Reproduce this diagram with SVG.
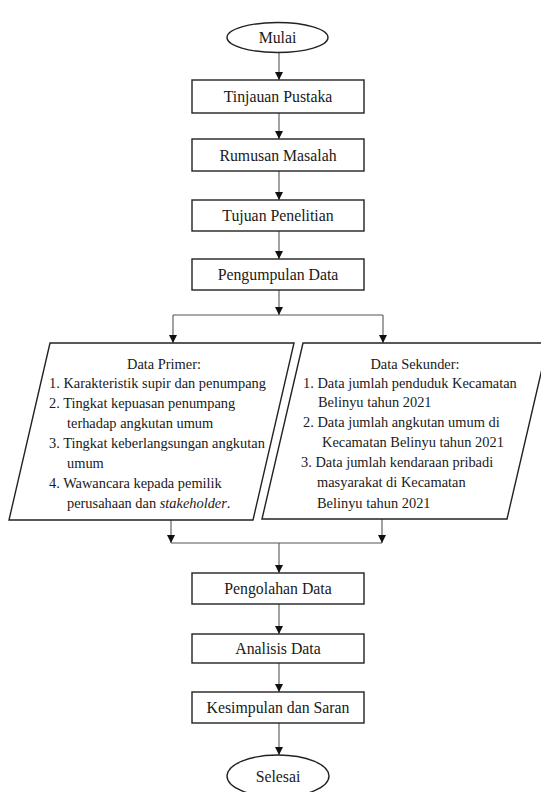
<svg xmlns="http://www.w3.org/2000/svg" width="541" height="792" viewBox="0 0 541 792">
<style>
.shape{fill:#fff;stroke:#222;stroke-width:1.4}
.t{font-family:'Liberation Serif',Tinos,'Times New Roman',Times,serif;font-size:15.8px;fill:#1a1a1a;text-anchor:middle}
.l{font-family:'Liberation Serif',Tinos,'Times New Roman',Times,serif;font-size:14.4px;fill:#1a1a1a}
.c{fill:none;stroke:#555;stroke-width:1.1}
</style>
<defs>
<marker id="ah" markerWidth="8" markerHeight="8" refX="8" refY="4" orient="auto" markerUnits="userSpaceOnUse">
<path d="M0,0 L8,4 L0,8 z" fill="#111"/>
</marker>
</defs>
<rect width="541" height="792" fill="#fff"/>
<g id="connectors">
<line class="c" x1="279" y1="52" x2="279" y2="80" marker-end="url(#ah)"/>
<line class="c" x1="279" y1="113" x2="279" y2="139" marker-end="url(#ah)"/>
<line class="c" x1="279" y1="171" x2="279" y2="200" marker-end="url(#ah)"/>
<line class="c" x1="279" y1="231" x2="279" y2="259" marker-end="url(#ah)"/>
<line class="c" x1="279" y1="290" x2="279" y2="315" marker-end="url(#ah)"/>
<line class="c" x1="173" y1="315" x2="383" y2="315"/>
<line class="c" x1="173" y1="315" x2="173" y2="343" marker-end="url(#ah)"/>
<line class="c" x1="383" y1="315" x2="383" y2="343" marker-end="url(#ah)"/>
<line class="c" x1="171" y1="520" x2="171" y2="543" marker-end="url(#ah)"/>
<line class="c" x1="382" y1="519" x2="382" y2="543" marker-end="url(#ah)"/>
<line class="c" x1="171" y1="543" x2="382" y2="543"/>
<line class="c" x1="279" y1="543" x2="279" y2="573" marker-end="url(#ah)"/>
<line class="c" x1="279" y1="604" x2="279" y2="634" marker-end="url(#ah)"/>
<line class="c" x1="279" y1="663" x2="279" y2="692" marker-end="url(#ah)"/>
<line class="c" x1="279" y1="723" x2="279" y2="755" marker-end="url(#ah)"/>
</g>
<g id="mulai">
<ellipse class="shape" cx="277.5" cy="37.5" rx="50.5" ry="15"/>
<text class="t" x="277.5" y="43">Mulai</text>
</g>
<g id="tinjauan">
<rect class="shape" x="192" y="80" width="172" height="33"/>
<text class="t" x="278" y="102">Tinjauan Pustaka</text>
</g>
<g id="rumusan">
<rect class="shape" x="192" y="139" width="172" height="32"/>
<text class="t" x="278" y="161">Rumusan Masalah</text>
</g>
<g id="tujuan">
<rect class="shape" x="192" y="200" width="172" height="31"/>
<text class="t" x="278" y="221">Tujuan Penelitian</text>
</g>
<g id="pengumpulan">
<rect class="shape" x="192" y="259" width="172" height="31"/>
<text class="t" x="278" y="280">Pengumpulan Data</text>
</g>
<g id="primer">
<polygon class="shape" points="50,343 294,343 253,520 9,520"/>
<text class="l" x="164" y="369" text-anchor="middle">Data Primer:</text>
<text class="l" x="49" y="388">1. Karakteristik supir dan penumpang</text>
<text class="l" x="49" y="408">2. Tingkat kepuasan penumpang</text>
<text class="l" x="67" y="428">terhadap angkutan umum</text>
<text class="l" x="49" y="448">3. Tingkat keberlangsungan angkutan</text>
<text class="l" x="67" y="468">umum</text>
<text class="l" x="49" y="488">4. Wawancara kepada pemilik</text>
<text class="l" x="67" y="508">perusahaan dan <tspan font-style="italic">stakeholder</tspan>.</text>
</g>
<g id="sekunder">
<polygon class="shape" points="303,343 548,343 507,519 262,519"/>
<text class="l" x="415" y="369" text-anchor="middle">Data Sekunder:</text>
<text class="l" x="303" y="388">1. Data jumlah penduduk Kecamatan</text>
<text class="l" x="318" y="407">Belinyu tahun 2021</text>
<text class="l" x="303" y="427">2. Data jumlah angkutan umum di</text>
<text class="l" x="322" y="447">Kecamatan Belinyu tahun 2021</text>
<text class="l" x="301" y="467">3. Data jumlah kendaraan pribadi</text>
<text class="l" x="317" y="487">masyarakat di Kecamatan</text>
<text class="l" x="317" y="508">Belinyu tahun 2021</text>
</g>
<g id="pengolahan">
<rect class="shape" x="192" y="573" width="172" height="31"/>
<text class="t" x="278" y="594">Pengolahan Data</text>
</g>
<g id="analisis">
<rect class="shape" x="192" y="634" width="172" height="29"/>
<text class="t" x="278" y="654">Analisis Data</text>
</g>
<g id="kesimpulan">
<rect class="shape" x="192" y="692" width="172" height="31"/>
<text class="t" x="278" y="713">Kesimpulan dan Saran</text>
</g>
<g id="selesai">
<ellipse class="shape" cx="278" cy="776" rx="51" ry="21"/>
<text class="t" x="278" y="782">Selesai</text>
</g>
</svg>
